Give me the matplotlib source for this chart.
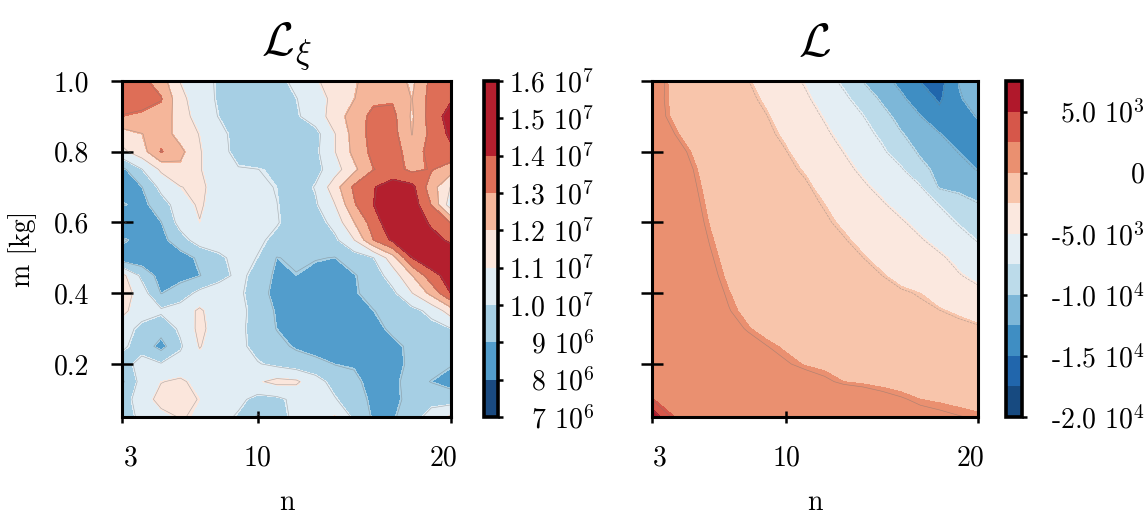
import numpy as np
import matplotlib
matplotlib.use("Agg")
import matplotlib.pyplot as plt
import matplotlib.transforms as mtransforms

plt.rcParams['font.family'] = 'serif'
plt.rcParams['font.serif'] = ['cmr10', 'DejaVu Serif']
plt.rcParams['mathtext.fontset'] = 'cm'
plt.rcParams['axes.unicode_minus'] = False
plt.rcParams['axes.formatter.use_mathtext'] = True

# grid of the two scans
n_vals = [3, 4, 5, 6, 7, 8, 9, 10, 11, 12, 13, 14, 15, 16, 17, 18, 19, 20]
m_vals = [1.00, 0.95, 0.90, 0.85, 0.80, 0.75, 0.70, 0.65, 0.60, 0.55,
          0.50, 0.45, 0.40, 0.35, 0.30, 0.25, 0.20, 0.15, 0.10, 0.05]

# L_xi, in units of 1e6 (rows: m from 1.0 down to 0.05, cols: n = 3..20)
loss_xi = [
    [13.6, 13.3, 12.5, 11.0, 10.4, 9.9, 9.5, 9.4, 9.7, 10.3, 10.9, 11.5, 11.9, 12.5, 12.6, 11.8, 13.3, 13.7],
    [13.4, 13.3, 13.1, 11.3, 10.5, 9.9, 9.4, 9.3, 9.4, 10.0, 10.6, 11.3, 12.0, 12.8, 12.9, 12.0, 13.4, 13.9],
    [13.0, 12.9, 12.6, 11.6, 10.5, 10.0, 9.5, 9.3, 9.4, 9.9, 10.5, 11.5, 12.5, 13.3, 13.3, 11.9, 13.5, 14.4],
    [11.6, 12.0, 12.6, 11.6, 11.0, 10.3, 9.7, 9.4, 9.4, 9.5, 9.7, 11.0, 12.4, 13.4, 13.4, 12.0, 13.3, 14.2],
    [10.8, 11.6, 13.1, 12.3, 11.1, 10.4, 9.7, 9.4, 9.3, 9.4, 9.8, 11.0, 12.3, 13.3, 13.4, 12.6, 13.3, 13.8],
    [8.8, 10.0, 11.2, 11.8, 11.1, 10.4, 10.1, 10.05, 9.9, 9.4, 9.7, 10.6, 11.8, 13.0, 13.4, 12.8, 13.1, 12.5],
    [8.5, 9.0, 10.3, 11.0, 11.3, 10.5, 10.4, 10.2, 10.0, 9.5, 10.1, 11.6, 13.2, 13.95, 14.5, 14.3, 12.5, 11.0],
    [9.1, 8.7, 9.6, 10.5, 11.2, 10.4, 10.3, 10.1, 10.05, 9.6, 9.9, 11.0, 12.9, 14.0, 14.7, 14.6, 13.0, 10.5],
    [7.9, 8.6, 9.0, 10.4, 11.0, 10.5, 10.3, 10.3, 10.1, 9.6, 9.5, 10.4, 12.0, 13.5, 14.8, 14.9, 13.8, 13.0],
    [9.2, 8.6, 8.7, 9.6, 10.5, 10.6, 10.5, 10.2, 9.8, 9.4, 9.3, 9.8, 11.0, 13.0, 14.2, 14.8, 14.5, 13.8],
    [8.4, 8.3, 8.4, 8.6, 9.2, 9.8, 10.4, 10.0, 9.0, 9.2, 9.1, 9.0, 9.5, 10.0, 11.6, 14.0, 14.8, 15.0],
    [11.3, 9.8, 8.6, 8.7, 9.0, 9.6, 10.3, 9.7, 8.8, 9.0, 8.7, 8.6, 8.95, 9.5, 10.5, 12.0, 13.6, 14.5],
    [11.6, 10.5, 9.0, 9.5, 10.3, 10.7, 10.2, 9.6, 8.6, 8.5, 8.4, 8.4, 8.9, 9.4, 9.8, 11.0, 12.3, 14.0],
    [11.3, 10.4, 10.2, 10.5, 11.2, 10.4, 10.3, 9.7, 8.9, 8.5, 8.4, 8.4, 8.5, 9.0, 9.4, 9.7, 10.3, 11.5],
    [10.4, 9.8, 9.4, 10.2, 11.3, 10.5, 10.3, 9.6, 9.0, 8.6, 8.3, 8.3, 8.3, 8.6, 9.3, 9.5, 9.7, 10.0],
    [10.2, 9.6, 8.7, 9.9, 11.1, 10.4, 10.3, 9.7, 9.3, 8.9, 8.5, 8.5, 8.4, 8.4, 8.7, 9.3, 9.6, 9.6],
    [9.6, 10.4, 10.1, 10.4, 10.6, 10.4, 10.5, 10.1, 9.8, 9.5, 9.4, 9.0, 8.9, 8.4, 8.6, 9.3, 9.4, 9.1],
    [8.9, 10.4, 11.0, 11.2, 10.7, 10.5, 10.6, 10.9, 11.3, 11.2, 10.4, 9.7, 9.3, 8.6, 8.8, 9.4, 9.0, 8.7],
    [9.6, 10.5, 11.4, 11.3, 11.0, 10.6, 10.3, 9.7, 9.8, 10.3, 10.4, 10.1, 9.5, 8.8, 8.8, 9.3, 9.7, 9.5],
    [9.5, 10.3, 10.7, 11.1, 10.9, 10.4, 9.9, 8.9, 9.6, 10.3, 10.5, 11.1, 9.8, 8.9, 8.9, 9.6, 10.4, 11.2],
]

# L (same grid)
loss = [
    [500, -100, -660, -1220, -1790, -2350, -3200, -4150, -5130, -6450, -7920, -10000, -11560, -13200, -15000, -16000, -12300, -10000],
    [400, -70, -580, -1090, -1600, -2110, -2730, -3670, -4620, -5720, -6930, -8500, -10330, -12000, -13850, -15300, -12800, -11000],
    [440, -30, -500, -970, -1440, -1910, -2380, -3200, -4140, -5090, -6220, -7350, -9110, -10820, -12390, -14200, -14000, -12200],
    [650, 190, -280, -750, -1210, -1680, -2150, -2730, -3650, -4570, -5570, -6650, -7910, -9790, -11100, -12340, -13700, -14000],
    [960, 480, 10, -465, -940, -1415, -1890, -2370, -3150, -4050, -4950, -6010, -7070, -8650, -10330, -11410, -12500, -13200],
    [1080, 620, 170, -290, -740, -1200, -1650, -2100, -2620, -3510, -4400, -5300, -6250, -7200, -9230, -10660, -11600, -12550],
    [1150, 700, 250, -180, -580, -990, -1400, -1810, -2210, -2940, -3770, -4610, -5480, -6390, -7290, -10200, -10600, -10900],
    [1200, 770, 330, -100, -490, -890, -1290, -1690, -2080, -2480, -3210, -3950, -4700, -5580, -6540, -7500, -8750, -9800],
    [1250, 826, 400, -18, -387, -756, -1125, -1494, -1863, -2231, -2680, -3350, -4030, -4700, -5560, -6580, -7600, -8600],
    [1300, 890, 485, 77, -275, -615, -955, -1295, -1640, -1980, -2320, -2800, -3450, -4090, -4740, -5590, -6570, -7550],
    [1350, 960, 560, 170, -180, -490, -810, -1130, -1440, -1760, -2070, -2390, -2870, -3450, -4020, -4600, -5500, -6300],
    [1400, 1020, 640, 260, -90, -375, -665, -955, -1245, -1530, -1820, -2110, -2400, -2910, -3530, -4150, -4780, -5500],
    [1450, 1090, 730, 370, 25, -240, -490, -740, -990, -1240, -1490, -1740, -1990, -2240, -2500, -3100, -3750, -4400],
    [1500, 1160, 820, 470, 130, -140, -360, -580, -810, -1030, -1260, -1480, -1700, -1920, -2150, -2370, -2700, -3200],
    [1600, 1290, 980, 660, 350, 40, -190, -350, -530, -720, -900, -1090, -1270, -1460, -1640, -1830, -2010, -2200],
    [1700, 1430, 1170, 900, 640, 370, 110, -80, -230, -370, -510, -650, -790, -940, -1080, -1220, -1360, -1500],
    [1850, 1610, 1360, 1120, 880, 630, 390, 150, -40, -130, -230, -320, -420, -520, -610, -710, -800, -900],
    [2000, 1800, 1600, 1400, 1200, 1000, 800, 600, 400, 200, 0, -70, -140, -210, -290, -360, -430, -500],
    [2550, 2050, 1900, 1750, 1600, 1450, 1300, 1150, 1000, 850, 650, 500, 300, 150, 0, -50, -100, -150],
    [7000, 2600, 2100, 1950, 1800, 1650, 1500, 1350, 1200, 1050, 900, 750, 600, 450, 300, 200, 120, 60],
]

levels_xi = [7e6, 8e6, 9e6, 10e6, 11e6, 12e6, 13e6, 14e6, 15e6, 16e6]
colors_xi = ['#1a4a80', '#529dcc', '#a6cfe4', '#e1edf4', '#fbe6dc',
             '#f5b69a', '#de6e57', '#b41f2e', '#b41f2e']
ticklabels_xi = ['7 $10^{6}$', '8 $10^{6}$', '9 $10^{6}$', '1.0 $10^{7}$', '1.1 $10^{7}$',
                 '1.2 $10^{7}$', '1.3 $10^{7}$', '1.4 $10^{7}$', '1.5 $10^{7}$', '1.6 $10^{7}$']

levels_l = [-20000, -17500, -15000, -12500, -10000, -7500, -5000, -2500, 0, 2500, 5000, 7500]
colors_l = ['#174a80', '#2166ac', '#3f8ec3', '#7db7d8', '#bcdbea', '#e4eef4',
            '#fbe8df', '#f8c5ab', '#ea9070', '#d6574a', '#b0182b']
ticks_l = [-20000, -15000, -10000, -5000, 0, 5000]
ticklabels_l = ['-2.0 $10^{4}$', '-1.5 $10^{4}$', '-1.0 $10^{4}$', '-5.0 $10^{3}$', '0', '5.0 $10^{3}$']

N, M = np.meshgrid(n_vals, m_vals)
Zxi = np.array(loss_xi) * 1e6
Zl = np.array(loss, dtype=float)

fig = plt.figure(figsize=(11.47, 5.19), dpi=100)
ax1 = fig.add_axes([0.1068, 0.1965, 0.2860, 0.6474])
cax1 = fig.add_axes([0.4220, 0.1965, 0.0122, 0.6474])
ax2 = fig.add_axes([0.5684, 0.1965, 0.2842, 0.6474])
cax2 = fig.add_axes([0.8770, 0.1965, 0.0140, 0.6474])

panels = [(ax1, cax1, Zxi, levels_xi, colors_xi, levels_xi, ticklabels_xi, r'$\mathcal{L}_\xi$', 66),
          (ax2, cax2, Zl, levels_l, colors_l, ticks_l, ticklabels_l, r'$\mathcal{L}$', 85)]

for ax, cax, Z, lev, cols, cticks, clabels, title, cpad in panels:
    cf = ax.contourf(N, M, Z, levels=lev, colors=cols)
    step = lev[1] - lev[0]
    # thin grey lines hugging each filled boundary
    ax.contour(N, M, Z, levels=[l + 0.04 * step for l in lev[:-1]],
               colors='0.45', linewidths=0.45, alpha=0.5)
    ax.set_xlim(3, 20)
    ax.set_ylim(0.05, 1.0)
    ax.set_xticks([3, 10, 20])
    ax.set_xticklabels(['3', '10', '20'], fontsize=20)
    ax.set_yticks([0.2, 0.4, 0.6, 0.8, 1.0])
    ax.tick_params(axis='y', direction='inout', length=16, width=1.8, pad=16)
    ax.tick_params(axis='x', direction='inout', length=8, width=1.8, pad=16)
    for s in ax.spines.values():
        s.set_linewidth(2.2)
    ax.set_xlabel('n', fontsize=20, labelpad=13)
    ax.set_title(title, fontsize=34, pad=18)
    # end labels sit a little inside the frame
    xl = ax.get_xticklabels()
    xl[0].set_transform(xl[0].get_transform() + mtransforms.ScaledTranslation(0.08, 0, fig.dpi_scale_trans))
    xl[-1].set_transform(xl[-1].get_transform() + mtransforms.ScaledTranslation(-0.07, 0, fig.dpi_scale_trans))

    cb = fig.colorbar(cf, cax=cax)
    cb.set_ticks(cticks)
    cb.set_ticklabels(clabels)
    cb.outline.set_linewidth(2.6)
    cax.tick_params(direction='out', length=3.5, width=1.8, pad=cpad, labelsize=20)
    for lab in cax.get_yticklabels():
        lab.set_horizontalalignment('right')

ax1.set_yticklabels(['0.2', '0.4', '0.6', '0.8', '1.0'], fontsize=20)
ax1.set_ylabel('m [kg]', fontsize=20, labelpad=12)
ax2.set_yticklabels([])

fig.savefig('out.png', dpi=100)
